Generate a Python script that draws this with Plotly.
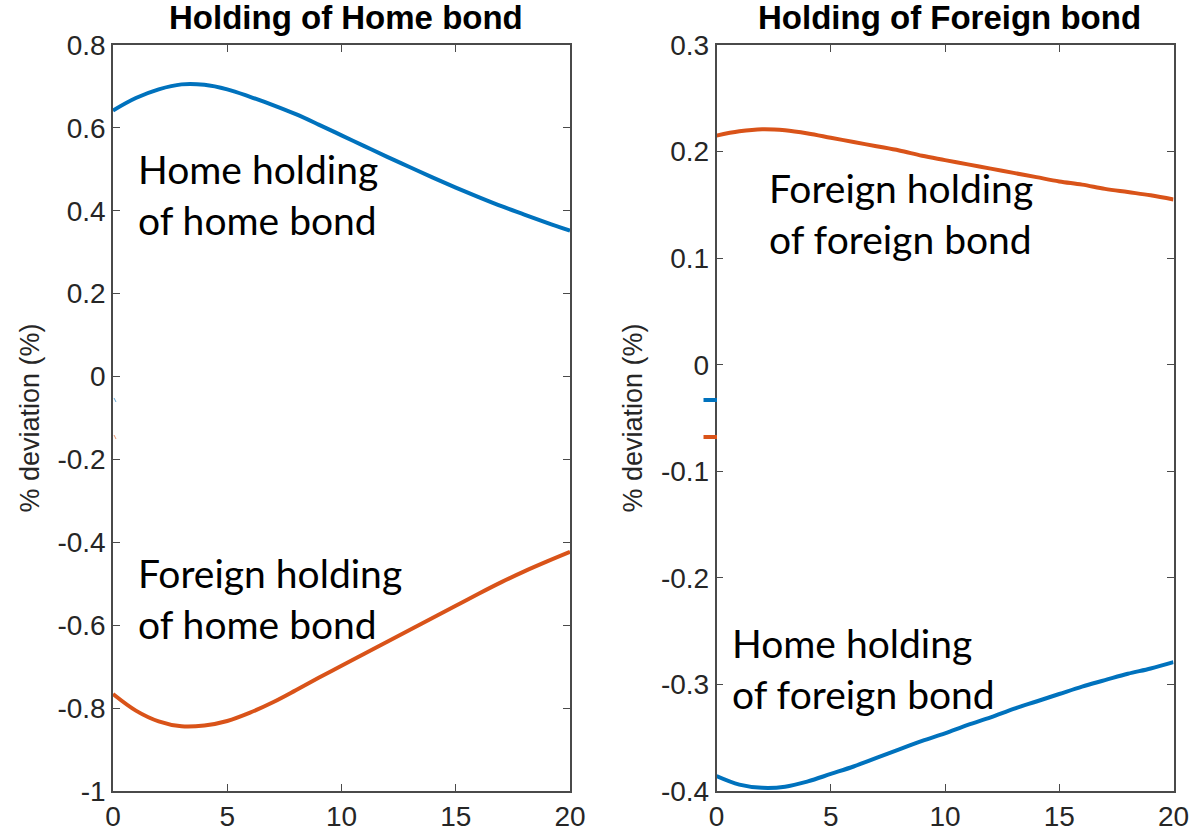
import plotly.graph_objects as go

# ---------------- data ----------------
periods = list(range(0, 21))

home_hold_home_bond = [0.642, 0.672, 0.693, 0.705, 0.704, 0.693, 0.675, 0.655, 0.633, 0.608,
                       0.582, 0.556, 0.530, 0.505, 0.480, 0.456, 0.433, 0.411, 0.391, 0.371, 0.352]
foreign_hold_home_bond = [-0.766, -0.806, -0.832, -0.844, -0.842, -0.831, -0.811, -0.786, -0.757, -0.727,
                          -0.698, -0.669, -0.640, -0.611, -0.582, -0.553, -0.524, -0.496, -0.470, -0.446, -0.423]

foreign_hold_foreign_bond = [0.215, 0.219, 0.221, 0.220, 0.217, 0.213, 0.209, 0.205, 0.201, 0.196,
                             0.192, 0.188, 0.184, 0.180, 0.176, 0.172, 0.169, 0.165, 0.162, 0.159, 0.155]
home_hold_foreign_bond = [-0.386, -0.394, -0.397, -0.396, -0.391, -0.384, -0.377, -0.369, -0.361, -0.353,
                          -0.346, -0.338, -0.331, -0.323, -0.316, -0.309, -0.302, -0.296, -0.290, -0.285, -0.279]

x_ticks = [0, 5, 10, 15, 20]
left_y_ticks = [-1, -0.8, -0.6, -0.4, -0.2, 0, 0.2, 0.4, 0.6, 0.8]
left_y_labels = ["-1", "-0.8", "-0.6", "-0.4", "-0.2", "0", "0.2", "0.4", "0.6", "0.8"]
right_y_ticks = [-0.4, -0.3, -0.2, -0.1, 0, 0.1, 0.2, 0.3]
right_y_labels = ["-0.4", "-0.3", "-0.2", "-0.1", "0", "0.1", "0.2", "0.3"]

titles = ["Holding of Home bond", "Holding of Foreign bond"]
y_title = "% deviation (%)"

BLUE = "#0072BD"
ORANGE = "#D95319"
AX = "#4a4a4a"
TXT = "#262626"

fig = go.Figure()
fig.add_trace(go.Scatter(x=periods, y=home_hold_home_bond, mode="lines", line_shape="spline",
                         line=dict(color=BLUE, width=4), xaxis="x", yaxis="y", showlegend=False))
fig.add_trace(go.Scatter(x=periods, y=foreign_hold_home_bond, mode="lines", line_shape="spline",
                         line=dict(color=ORANGE, width=4), xaxis="x", yaxis="y", showlegend=False))
fig.add_trace(go.Scatter(x=periods, y=foreign_hold_foreign_bond, mode="lines", line_shape="spline",
                         line=dict(color=ORANGE, width=4), xaxis="x2", yaxis="y2", showlegend=False))
fig.add_trace(go.Scatter(x=periods, y=home_hold_foreign_bond, mode="lines", line_shape="spline",
                         line=dict(color=BLUE, width=4), xaxis="x2", yaxis="y2", showlegend=False))

W, H = 1192, 834
ydom = [1 - 791 / H, 1 - 45 / H]

FONT = "Liberation Sans, Arial, sans-serif"
tickfont = dict(family=FONT, size=28, color=TXT)
common_x = dict(range=[0, 20], tickvals=x_ticks, ticks="inside", ticklen=7, tickwidth=1.3,
                tickcolor=AX, showline=True, linecolor=AX, linewidth=1.5, mirror="ticks",
                showgrid=False, zeroline=False, tickfont=tickfont, fixedrange=True,
                automargin=False)
common_y = dict(ticks="inside", ticklen=7, tickwidth=1.3, tickcolor=AX, showline=True,
                linecolor=AX, linewidth=1.5, mirror="ticks", showgrid=False, zeroline=False,
                tickfont=tickfont, fixedrange=True, automargin=False,
                title=dict(text=y_title, font=dict(family=FONT, size=27, color=TXT), standoff=10))

fig.update_layout(
    width=W, height=H,
    margin=dict(l=0, r=0, t=0, b=0),
    paper_bgcolor="white", plot_bgcolor="white",
    xaxis=dict(domain=[113 / W, 570 / W], anchor="y", **common_x),
    yaxis=dict(domain=ydom, anchor="x", range=[-1, 0.8], tickvals=left_y_ticks,
               ticktext=left_y_labels, **common_y),
    xaxis2=dict(domain=[716.5 / W, 1173.5 / W], anchor="y2", **common_x),
    yaxis2=dict(domain=ydom, anchor="x2", range=[-0.4, 0.3], tickvals=right_y_ticks,
                ticktext=right_y_labels, **common_y),
)

# subplot titles
title_font = dict(family=FONT, size=33, color="black")
fig.add_annotation(text="<b>%s</b>" % titles[0], x=(113 + 570) / 2 / W + 0.004, y=1 - 18 / H,
                   xref="paper", yref="paper", xanchor="center", yanchor="middle",
                   showarrow=False, font=title_font)
fig.add_annotation(text="<b>%s</b>" % titles[1], x=(716.5 + 1173.5) / 2 / W + 0.004, y=1 - 18 / H,
                   xref="paper", yref="paper", xanchor="center", yanchor="middle",
                   showarrow=False, font=title_font)

# text labels inside plots
lab_font = dict(family="Lato, Carlito, Calibri, sans-serif", size=39, color="black")
labels = [
    ("Home holding<br>of home bond", 1.0, 0.44, "x", "y"),
    ("Foreign holding<br>of home bond", 1.0, -0.536, "x", "y"),
    ("Foreign holding<br>of foreign bond", 2.2, 0.142, "x2", "y2"),
    ("Home holding<br>of foreign bond", 0.6, -0.285, "x2", "y2"),
]
for txt, xv, yv, xr, yr in labels:
    fig.add_annotation(text=txt, x=xv, y=yv, xref=xr, yref=yr, xanchor="left", yanchor="middle",
                       align="left", showarrow=False, font=lab_font)

# small legend-line remnants at the left edge of each axes
for y_px, col in [(400, BLUE), (437, ORANGE)]:
    fig.add_shape(type="line", xref="paper", yref="paper",
                  x0=703.5 / W, x1=717 / W, y0=1 - y_px / H, y1=1 - y_px / H,
                  line=dict(color=col, width=4))
    fig.add_shape(type="line", xref="paper", yref="paper",
                  x0=114 / W, x1=116 / W, y0=1 - (y_px - 2) / H, y1=1 - (y_px + 2) / H,
                  line=dict(color=col, width=1), opacity=0.6)

fig.write_html("out.html")
